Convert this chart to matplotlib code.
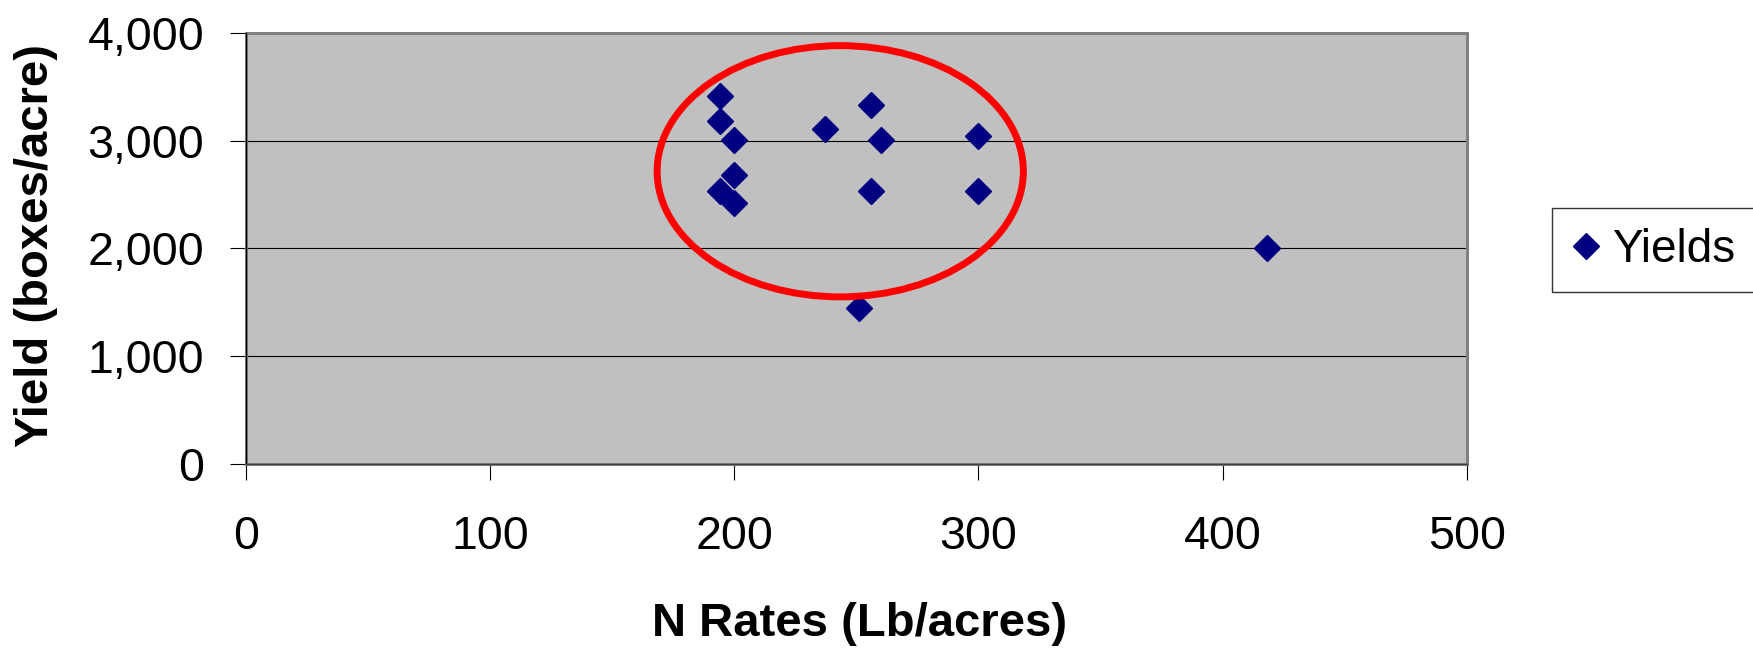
import matplotlib
matplotlib.use("Agg")
import matplotlib.pyplot as plt
from matplotlib.patches import Ellipse
from matplotlib.ticker import FuncFormatter

plt.rcParams['font.family'] = ['Liberation Sans', 'DejaVu Sans']

# N application rate vs yield
n_rates = [194, 194, 200, 200, 194, 200, 237, 256, 260, 300, 256, 300, 251, 418]
yields = [3410, 3180, 3005, 2680, 2535, 2425, 3110, 3330, 3005, 3040, 2535, 2535, 1445, 2000]

x_ticks = [0, 100, 200, 300, 400, 500]
y_ticks = [0, 1000, 2000, 3000, 4000]

# highlighted cluster (data units)
ring_center = (243.4, 2715)
ring_width = 150
ring_height = 2330

fig = plt.figure(figsize=(17.53, 6.5), dpi=100)
ax = fig.add_axes([246 / 1753, 1 - 464 / 650, (1466.7 - 246) / 1753, (464 - 32.7) / 650])
ax.set_facecolor('#C0C0C0')

ax.set_xlim(0, 500)
ax.set_ylim(0, 4000)
ax.set_xticks(x_ticks)
ax.set_yticks(y_ticks)
ax.yaxis.set_major_formatter(FuncFormatter(lambda v, p: f'{int(v):,}'))

ax.grid(axis='y', color='black', linewidth=0.8)
ax.set_axisbelow(True)

for s in ax.spines.values():
    s.set_color('#808080')
    s.set_linewidth(2.2)
ax.axvline(0, color='black', linewidth=0.9, clip_on=False, zorder=2.6)
ax.axhline(0, color='#404040', linewidth=0.9, clip_on=False, zorder=2.6)

ax.tick_params(axis='both', direction='out', length=11.5, width=0.8, color='black',
               labelsize=33.5)
ax.tick_params(axis='y', pad=18.5)
ax.tick_params(axis='x', pad=25.5)

ax.plot(n_rates, yields, linestyle='none', marker='D', markersize=13,
        color='#000080', label='Yields', zorder=3)

ring = Ellipse(ring_center, ring_width, ring_height, fill=False,
               edgecolor='#FF0000', linewidth=5, zorder=4)
ax.add_patch(ring)

fig.text(36 / 1753, 1 - 246 / 650, 'Yield (boxes/acre)', rotation=90,
         ha='center', va='center', fontsize=34, fontweight='bold')
fig.text(860 / 1753, 1 - 624 / 650, 'N Rates (Lb/acres)',
         ha='center', va='center', fontsize=34, fontweight='bold')

leg = ax.legend(loc='center left', bbox_to_anchor=(1551.5 / 1753, 1 - 250 / 650),
                bbox_transform=fig.transFigure, fontsize=33, frameon=True,
                fancybox=False, edgecolor='black', borderaxespad=0,
                borderpad=0.43, handlelength=0.64, handletextpad=0.25)
leg.get_frame().set_linewidth(1.0)

fig.savefig('out.png', dpi=100)
